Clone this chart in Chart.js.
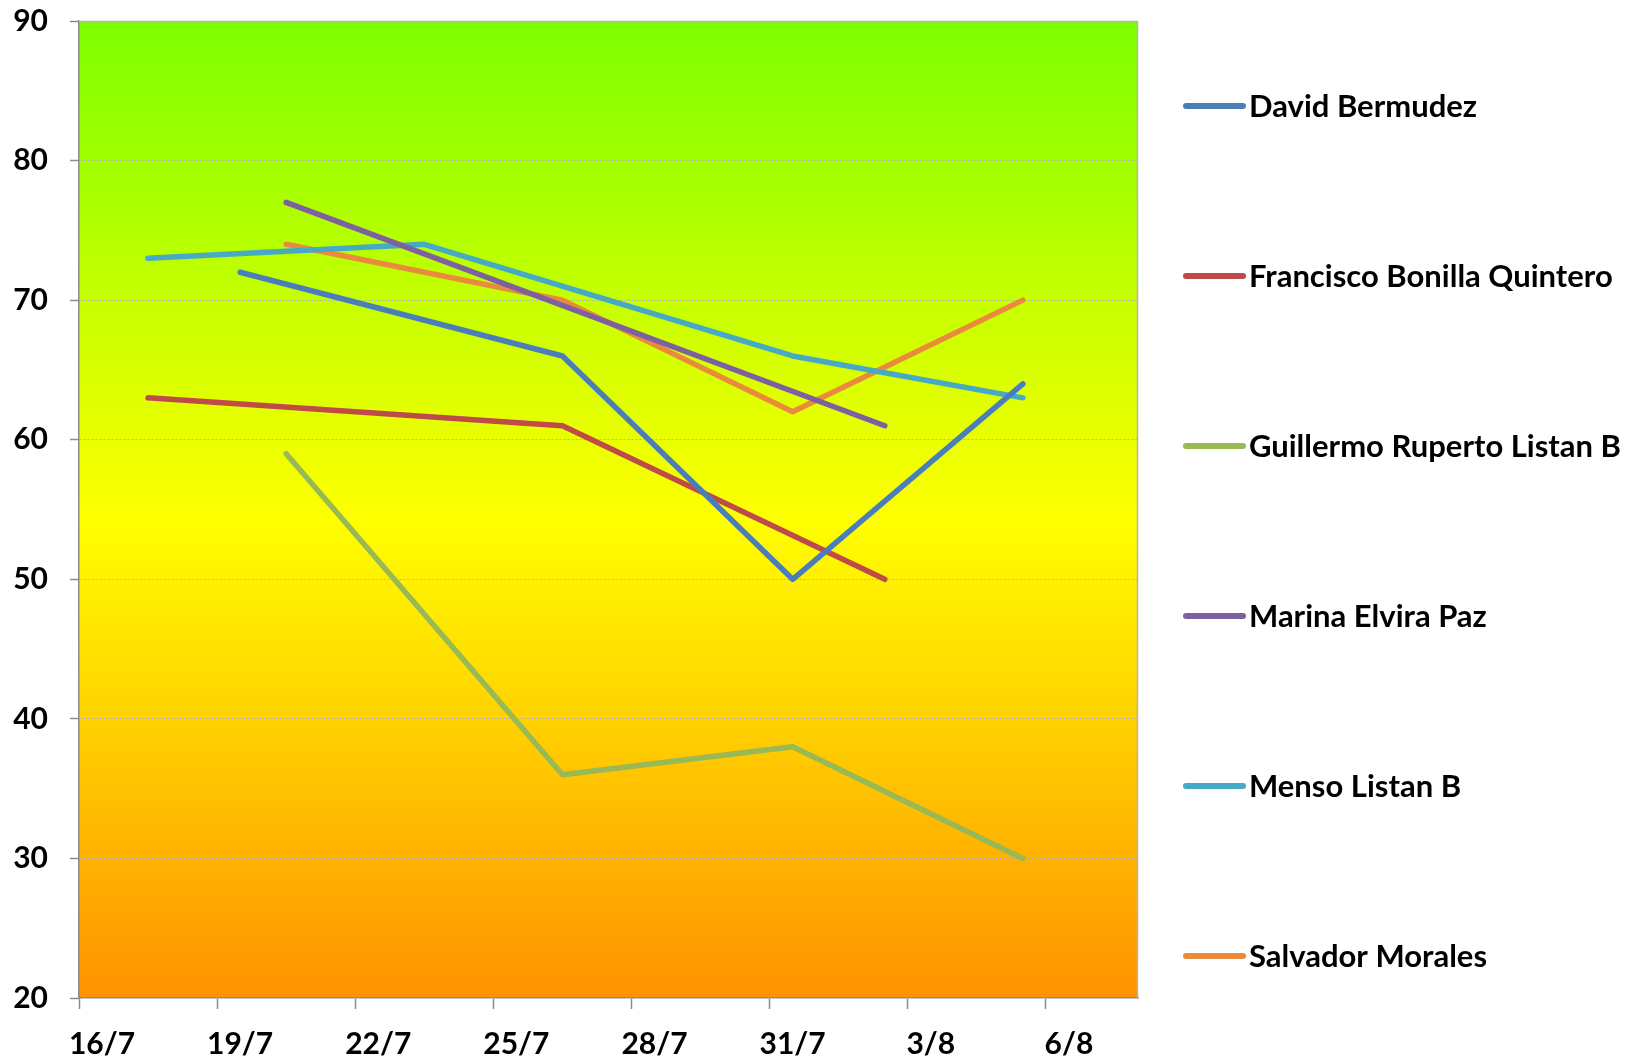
<!DOCTYPE html>
<html>
<head>
<meta charset="utf-8">
<script src="https://cdn.jsdelivr.net/npm/chart.js@4/dist/chart.umd.min.js"></script>
<style>
  html, body { margin: 0; padding: 0; background: #fff; }
  #wrap { width: 1639px; height: 1061px; }
</style>
</head>
<body>
<div id="wrap"><canvas id="chart" width="1639" height="1061"></canvas></div>
<script>
// dates are day/month, first day of the axis is 16/7
const seriesNames = [
  'David Bermudez',
  'Francisco Bonilla Quintero',
  'Guillermo Ruperto Listan B',
  'Marina Elvira Paz',
  'Menso Listan B',
  'Salvador Morales'
];
const davidDates = ['19/7', '26/7', '31/7', '5/8'];
const davidValues = [72, 66, 50, 64];
const franciscoDates = ['17/7', '26/7', '2/8'];
const franciscoValues = [63, 61, 50];
const guillermoDates = ['20/7', '26/7', '31/7', '5/8'];
const guillermoValues = [59, 36, 38, 30];
const marinaDates = ['20/7', '2/8'];
const marinaValues = [77, 61];
const mensoDates = ['17/7', '23/7', '31/7', '5/8'];
const mensoValues = [73, 74, 66, 63];
const salvadorDates = ['20/7', '26/7', '31/7', '5/8'];
const salvadorValues = [74, 70, 62, 70];

const xTickLabels = ['16/7', '19/7', '22/7', '25/7', '28/7', '31/7', '3/8', '6/8'];
const yTicks = [20, 30, 40, 50, 60, 70, 80, 90];
const axisDays = 23; // 16/7 .. 7/8

const colors = ['#4a7ebb', '#be4b48', '#98b954', '#7d60a0', '#46aac5', '#e98a3c'];

function dayIndex(s) {
  const [d, m] = s.split('/').map(Number);
  return m === 7 ? d - 16 : 15 + d;
}
function toPoints(dates, values) {
  // points sit in the middle of their day
  return dates.map((d, i) => ({ x: dayIndex(d) + 0.5, y: values[i] }));
}
function labelFor(v) {
  const i = xTickLabels.findIndex(l => dayIndex(l) === v);
  return i >= 0 ? xTickLabels[i] : '';
}

const allDates = [davidDates, franciscoDates, guillermoDates, marinaDates, mensoDates, salvadorDates];
const allValues = [davidValues, franciscoValues, guillermoValues, marinaValues, mensoValues, salvadorValues];

const FONT = 'Lato, "Open Sans", sans-serif';

const bgPlugin = {
  id: 'plotBg',
  beforeDraw(chart) {
    const { ctx, chartArea: a } = chart;
    const g = ctx.createLinearGradient(0, a.top, 0, a.bottom);
    g.addColorStop(0, '#7dff00');
    g.addColorStop(0.51, '#ffff00');
    g.addColorStop(1, '#ff9200');
    ctx.save();
    ctx.fillStyle = g;
    ctx.fillRect(a.left, a.top, a.right - a.left, a.bottom - a.top);
    ctx.restore();
  },
  beforeDatasetsDraw(chart) {
    const { ctx, chartArea: a } = chart;
    ctx.save();
    ctx.strokeStyle = '#b4b4b4';
    ctx.lineWidth = 1.5;
    ctx.beginPath();
    ctx.moveTo(a.left, a.top + 0.5);
    ctx.lineTo(a.right - 0.5, a.top + 0.5);
    ctx.lineTo(a.right - 0.5, a.bottom);
    ctx.stroke();
    ctx.restore();
  }
};

const legendPlugin = {
  id: 'sideLegend',
  afterDraw(chart) {
    const { ctx } = chart;
    ctx.save();
    ctx.font = 'bold 31px ' + FONT;
    ctx.textBaseline = 'middle';
    ctx.fillStyle = '#000';
    chart.data.datasets.forEach((ds, i) => {
      const y = 106 + i * 170;
      ctx.strokeStyle = ds.borderColor;
      ctx.lineWidth = 6;
      ctx.lineCap = 'round';
      ctx.beginPath();
      ctx.moveTo(1186, y);
      ctx.lineTo(1243, y);
      ctx.stroke();
      ctx.fillText(ds.label, 1249, y + 1);
    });
    ctx.restore();
  }
};

new Chart(document.getElementById('chart'), {
  type: 'line',
  data: {
    datasets: seriesNames.map((name, i) => ({
      label: name,
      data: toPoints(allDates[i], allValues[i]),
      borderColor: colors[i],
      backgroundColor: colors[i],
      borderWidth: 5.5,
      borderCapStyle: 'round',
      borderJoinStyle: 'round',
      pointRadius: 0,
      tension: 0
    }))
  },
  options: {
    responsive: false,
    animation: false,
    layout: { padding: { left: 0, top: 21, right: 501, bottom: 0 } },
    plugins: {
      legend: { display: false },
      tooltip: { enabled: false }
    },
    scales: {
      x: {
        type: 'linear',
        min: 0,
        max: axisDays,
        afterBuildTicks(scale) {
          scale.ticks = xTickLabels.map(l => ({ value: dayIndex(l) }));
        },
        afterFit(scale) { scale.height = 63; },
        grid: {
          drawOnChartArea: false,
          tickLength: 11,
          tickColor: '#8c8c8c',
          tickWidth: 1.5
        },
        border: { display: true, color: '#8c8c8c', width: 1.5 },
        ticks: {
          autoSkip: false,
          maxRotation: 0,
          labelOffset: 23,
          padding: 17,
          color: '#000',
          font: { family: FONT, size: 30, weight: 'bold' },
          callback: v => labelFor(v)
        }
      },
      y: {
        min: 20,
        max: 90,
        afterBuildTicks(scale) {
          scale.ticks = yTicks.map(v => ({ value: v }));
        },
        afterFit(scale) {
          scale.width = 79;
          scale.paddingTop = 0;
          scale.paddingBottom = 0;
        },
        grid: {
          color: ctx => (ctx.tick && (ctx.tick.value === 20 || ctx.tick.value === 90)) ? 'rgba(0,0,0,0)' : '#b0b0b0',
          lineWidth: 1,
          tickLength: 9,
          tickColor: '#8c8c8c',
          tickWidth: 1.5,
          tickBorderDash: []
        },
        border: { display: true, color: '#8c8c8c', width: 1.5, dash: [2, 2] },
        ticks: {
          padding: 22,
          color: '#000',
          font: { family: FONT, size: 30, weight: 'bold' }
        }
      }
    }
  },
  plugins: [bgPlugin, legendPlugin]
});
</script>
</body>
</html>
